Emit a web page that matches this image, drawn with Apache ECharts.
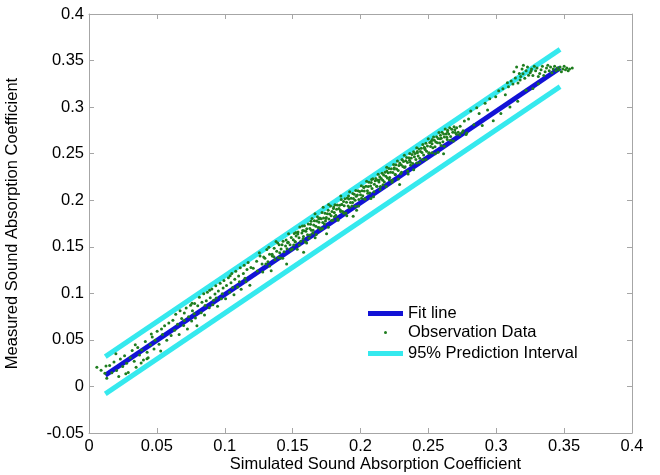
<!DOCTYPE html>
<html>
<head>
<meta charset="utf-8">
<script src="https://cdn.jsdelivr.net/npm/echarts@6/dist/echarts.min.js"></script>
<style>
html,body{margin:0;padding:0;background:#fff;}
#chart{width:660px;height:475px;}
</style>
</head>
<body>
<div id="chart"></div>
<script>
// Axis settings
var xTicks = [0, 0.05, 0.1, 0.15, 0.2, 0.25, 0.3, 0.35, 0.4];
var yTicks = [-0.05, 0, 0.05, 0.1, 0.15, 0.2, 0.25, 0.3, 0.35, 0.4];

// Fit line and 95% prediction interval end points
var fitLine = [[0.012, 0.012], [0.347, 0.342]];
var upperPI = [[0.012, 0.032], [0.347, 0.362]];
var lowerPI = [[0.012, -0.008], [0.347, 0.322]];

// Observation data (simulated, measured)
var obsLow = [
[0.0058,0.0207],[0.0089,0.0175],[0.0117,0.0142],[0.0131,0.0089],[0.0152,0.0226],[0.0168,0.0148],[0.0184,0.0262],[0.0203,0.0171],[0.0219,0.0108],[0.0231,0.0296],
[0.0248,0.0213],[0.0262,0.0329],[0.0277,0.0248],[0.0289,0.0151],[0.0304,0.0307],[0.0318,0.0386],[0.0333,0.0271],[0.0347,0.0205],[0.0359,0.0418],[0.0372,0.0338],
[0.0388,0.0392],[0.0401,0.0284],[0.0415,0.0482],[0.0428,0.0367],[0.0436,0.0309],[0.0452,0.0449],[0.0466,0.0531],[0.0479,0.0402],[0.0487,0.0497],[0.0502,0.0592],
[0.0516,0.0454],[0.0528,0.0381],[0.0541,0.0557],[0.0557,0.0651],[0.0198,0.0352],[0.0341,0.0447],[0.0459,0.0562],[0.0534,0.0618],[0.0271,0.0135],[0.0427,0.0298],
[0.0125,0.0219],[0.0384,0.0251],[0.0573,0.0497],[0.0588,0.0682]
];
var obsMidLow = [
[0.0605,0.0548],[0.0618,0.0712],[0.0631,0.0604],[0.0639,0.0775],[0.0652,0.0668],[0.0664,0.0559],[0.0671,0.0812],[0.0683,0.0731],[0.0697,0.0655],[0.0702,0.0790],
[0.0716,0.0842],[0.0725,0.0617],[0.0733,0.0748],[0.0748,0.0871],[0.0756,0.0702],[0.0762,0.0813],[0.0778,0.0891],[0.0784,0.0734],[0.0795,0.0652],[0.0801,0.0867],
[0.0813,0.0958],[0.0826,0.0792],[0.0832,0.0905],[0.0845,0.0996],[0.0851,0.0768],[0.0864,0.0921],[0.0872,0.1012],[0.0886,0.0845],[0.0893,0.0952],[0.0905,0.1046],
[0.0912,0.0878],[0.0928,0.0993],[0.0934,0.1081],[0.0947,0.0862],[0.0953,0.1024],[0.0966,0.1107],[0.0975,0.0942],[0.0988,0.1057],[0.0994,0.1138],[0.1006,0.0941],
[0.1013,0.1085],[0.1027,0.1168],[0.1035,0.1012],[0.1046,0.1113],[0.1052,0.1214],[0.1068,0.0985],[0.1074,0.1152],[0.1081,0.1237],[0.1095,0.1068],[0.1102,0.1187],
[0.1114,0.1276],[0.1121,0.1045],[0.1137,0.1213],[0.1143,0.1302],[0.1156,0.1124],[0.1164,0.1256],[0.1172,0.1331],[0.1185,0.1087],[0.1193,0.1278],[0.1058,0.1062],
[0.0918,0.0925],[0.0775,0.0781],[0.1108,0.1124],[0.0982,0.0996],[0.0855,0.0870],[0.1149,0.1162],[0.0702,0.0708],[0.0937,0.0951],[0.1040,0.1189],[0.0889,0.1034],
[0.0759,0.0894]
];
var obsMid = [
[0.121,0.127],[0.1235,0.1345],[0.124,0.124],[0.126,0.140],[0.1275,0.1315],[0.128,0.123],[0.1296,0.1376],[0.131,0.147],[0.1318,0.1338],[0.133,0.142],
[0.1342,0.1242],[0.135,0.140],[0.1364,0.1484],[0.137,0.136],[0.1383,0.1453],[0.139,0.154],[0.1405,0.1435],[0.141,0.138],[0.1422,0.1522],[0.143,0.156],
[0.1437,0.1447],[0.1448,0.1508],[0.1456,0.1316],[0.1463,0.1543],[0.147,0.164],[0.1481,0.1521],[0.149,0.160],[0.1497,0.1477],[0.1505,0.1575],[0.1512,0.1642],
[0.152,0.155],[0.1526,0.1616],[0.1534,0.1474],[0.154,0.166],[0.1547,0.1597],[0.1553,0.1713],[0.156,0.156],[0.1568,0.1648],[0.1574,0.1674],[0.158,0.161],
[0.1587,0.1727],[0.1593,0.1553],[0.1598,0.1668],[0.1255,0.1435],[0.1325,0.1495],[0.1378,0.1558],[0.1415,0.1475],[0.1452,0.1572],[0.1508,0.1518],[0.1538,0.1638],
[0.1572,0.1722]
];
var obsMidUpper = [
[0.1604,0.1694],[0.161,0.163],[0.1615,0.1745],[0.1621,0.1591],[0.1627,0.1697],[0.1632,0.1742],[0.1638,0.1678],[0.1643,0.1803],[0.1649,0.1649],[0.1655,0.1735],
[0.166,0.178],[0.1666,0.1596],[0.1671,0.1721],[0.1677,0.1777],[0.1683,0.1823],[0.1688,0.1708],[0.1694,0.1764],[0.17,0.181],[0.1705,0.1685],[0.1711,0.1801],
[0.1717,0.1867],[0.1722,0.1762],[0.1728,0.1808],[0.1734,0.1744],[0.1739,0.1859],[0.1745,0.1805],[0.175,0.164],[0.1756,0.1856],[0.1762,0.1892],[0.1767,0.1797],
[0.1773,0.1853],[0.1779,0.1939],[0.1784,0.1834],[0.179,0.188],[0.1796,0.1786],[0.1801,0.1911],[0.1807,0.1867],[0.1812,0.1952],[0.1818,0.1838],[0.1824,0.1904],
[0.1829,0.1949],[0.1835,0.1785],[0.1841,0.1911],[0.1846,0.1946],[0.1852,0.1892],[0.1858,0.2008],[0.1863,0.1953],[0.1869,0.1879],[0.1875,0.1985],[0.188,0.194],
[0.1886,0.2016],[0.1892,0.1862],[0.1897,0.1977],[0.1903,0.2023],[0.1909,0.1939],[0.1914,0.2014],[0.192,0.209],[0.1926,0.1976],[0.1931,0.2021],[0.1937,0.1937],
[0.1943,0.2073],[0.1948,0.2018],[0.1954,0.2064],[0.196,0.200],[0.1965,0.2105],[0.1971,0.1891],[0.1977,0.2057],[0.1982,0.2102],[0.1988,0.2008],[0.1994,0.2094],
[0.20,0.206],[0.2006,0.2156],[0.2011,0.2101],[0.2017,0.2047],[0.2023,0.2143],[0.2028,0.2098],[0.2034,0.2014],[0.204,0.215],[0.2045,0.2205],[0.2051,0.2101],
[0.2057,0.2147],[0.2062,0.2192],[0.2068,0.2078],[0.2074,0.2154],[0.2079,0.2189],[0.2085,0.2125],[0.2091,0.2231],[0.2096,0.2036],[0.2102,0.2172],[0.2108,0.2208],
[0.2113,0.2233],[0.2119,0.2149],[0.2125,0.2215],[0.213,0.228],[0.2136,0.2196],[0.2142,0.2252],[0.2147,0.2147],[0.2153,0.2233],[0.2159,0.2289],[0.2164,0.2214],
[0.217,0.227],[0.2176,0.2196],[0.2181,0.2301],[0.2187,0.2257],[0.2193,0.2353],[0.2198,0.2238],[0.1725,0.1925],[0.1765,0.1955],[0.1665,0.1855],[0.1855,0.2045]
];
var obsMidHigh = [
[0.2204,0.2294],[0.221,0.234],[0.2215,0.2245],[0.2221,0.2301],[0.2227,0.2337],[0.2232,0.2192],[0.2238,0.2298],[0.2244,0.2384],[0.2249,0.2349],[0.2255,0.2275],
[0.2261,0.2381],[0.2266,0.2336],[0.2272,0.2422],[0.2278,0.2318],[0.2283,0.2373],[0.2289,0.2399],[0.2295,0.2285],[0.23,0.238],[0.2306,0.2436],[0.2312,0.2362],
[0.2317,0.2417],[0.2323,0.2483],[0.2329,0.2359],[0.2334,0.2424],[0.234,0.246],[0.2346,0.2406],[0.2351,0.2281],[0.2357,0.2457],[0.2363,0.2503],[0.2368,0.2408],
[0.2374,0.2454],[0.238,0.249],[0.2385,0.2395],[0.2391,0.2521],[0.2397,0.2467],[0.2402,0.2502],[0.2408,0.2438],[0.2414,0.2564],[0.2419,0.2509],[0.2425,0.2475],
[0.2431,0.2551],[0.2436,0.2406],[0.2442,0.2522],[0.2448,0.2559],[0.2453,0.2513],[0.2459,0.2599],[0.2465,0.2485],[0.247,0.257],[0.2476,0.2546],[0.2482,0.2612],
[0.2487,0.2527],[0.2493,0.2583],[0.2499,0.2659],[0.2504,0.2504],[0.251,0.262],[0.2516,0.2576],[0.2521,0.2633],[0.2527,0.2607],[0.2533,0.2563],[0.2538,0.2678],
[0.2544,0.2644],[0.255,0.250],[0.2555,0.2625],[0.2561,0.2681],[0.2567,0.2617],[0.2572,0.2662],[0.2578,0.2728],[0.2584,0.2614],[0.2589,0.2699],[0.2595,0.2665],
[0.2601,0.2731],[0.2607,0.2627],[0.2612,0.2712],[0.2618,0.2678],[0.2624,0.2764],[0.263,0.271],[0.2636,0.2676],[0.2642,0.2752],[0.265,0.271],[0.2657,0.2777],
[0.2664,0.2684],[0.2672,0.2762],[0.268,0.273],[0.2689,0.2789],[0.2698,0.2728],[0.2708,0.2778],[0.272,0.273],[0.2734,0.2794],[0.2748,0.2728]
];
var obsNearFit = [
[0.1303,0.1316],[0.1331,0.1293],[0.1362,0.1394],[0.1394,0.1385],[0.1427,0.1378],[0.1459,0.1479],[0.1486,0.1466],[0.1518,0.1557],[0.1549,0.1518],[0.1577,0.1585],
[0.1603,0.1541],[0.1629,0.1627],[0.1651,0.1678],[0.1674,0.1631],[0.1698,0.1705],[0.1719,0.1695],[0.1742,0.1778],[0.1763,0.1709],[0.1787,0.1782],[0.1808,0.1823],
[0.1832,0.1797],[0.1853,0.1878],[0.1877,0.1861],[0.1899,0.1833],[0.1918,0.1921],[0.1942,0.1975],[0.1963,0.1936],[0.1986,0.1938],[0.2008,0.2020],[0.2031,0.2013],
[0.2053,0.2074],[0.2077,0.2018],[0.2099,0.2090],[0.2121,0.2151],[0.2144,0.2114],[0.2166,0.2166],[0.2189,0.2148],[0.2212,0.2221],[0.2235,0.2214],[0.2257,0.2275],
[0.2279,0.2227],[0.2302,0.2300],[0.2324,0.2351],[0.2347,0.2314],[0.2369,0.2376],[0.2392,0.2328],[0.2414,0.2400],[0.2437,0.2452],[0.2459,0.2434],[0.2482,0.2437],
[0.2505,0.2509],[0.2527,0.2511],[0.2549,0.2573],[0.2572,0.2515],[0.2594,0.2587],[0.2617,0.2580],[0.2639,0.2651],[0.2662,0.2644],[0.2684,0.2636],[0.2707,0.2708],
[0.2731,0.2702],[0.2756,0.2747],[0.2783,0.2723],[0.1581,0.1441],[0.1946,0.1827],[0.2288,0.2170],[0.2612,0.2498]
];
var obsUpperBand = [
[0.1287,0.1390],[0.1349,0.1421],[0.1401,0.1522],[0.1468,0.1548],[0.1524,0.1653],[0.1583,0.1671],[0.1636,0.1774],[0.1692,0.1799],[0.1748,0.1814],[0.1803,0.1928],
[0.1861,0.1955],[0.1912,0.2046],[0.1969,0.2042],[0.2025,0.2137],[0.2082,0.2223],[0.2137,0.2217],[0.2194,0.2313],[0.2248,0.2336],[0.2307,0.2434],[0.2361,0.2428],
[0.2418,0.2524],[0.2473,0.2558],[0.2529,0.2653],[0.2586,0.2659],[0.2641,0.2733],[0.2695,0.2757]
];
var obsHigh = [
[0.2765,0.2851],[0.2778,0.2705],[0.2796,0.2872],[0.2812,0.2958],[0.2835,0.2811],[0.2856,0.2993],[0.2874,0.2931],[0.2897,0.2802],[0.2918,0.3042],[0.2936,0.2968],
[0.2952,0.3089],[0.2978,0.2853],[0.2996,0.3112],[0.3018,0.3176],[0.3034,0.2931],[0.3049,0.3198],[0.3067,0.3132],[0.3082,0.3261],[0.3101,0.3002],[0.3123,0.3249],
[0.3141,0.3312],[0.3158,0.3063],[0.3176,0.3291],[0.3197,0.3358],[0.3219,0.3182],[0.3238,0.3341],[0.3257,0.3389]
];
var obsTop = [
[0.313,0.338],[0.315,0.343],[0.317,0.336],[0.319,0.341],[0.320,0.345],[0.322,0.339],[0.323,0.343],[0.325,0.337],[0.326,0.341],[0.328,0.344],
[0.329,0.339],[0.330,0.342],[0.332,0.336],[0.333,0.340],[0.334,0.344],[0.336,0.338],[0.337,0.342],[0.338,0.345],[0.339,0.339],[0.340,0.343],
[0.341,0.337],[0.342,0.341],[0.343,0.344],[0.344,0.339],[0.345,0.342],[0.346,0.340],[0.347,0.343],[0.348,0.338],[0.349,0.341],[0.350,0.344],
[0.351,0.340],[0.352,0.342],[0.353,0.339],[0.354,0.341],[0.356,0.342],[0.318,0.333],[0.321,0.331],[0.327,0.334],[0.331,0.333],[0.335,0.334],
[0.311,0.328],[0.316,0.326],[0.309,0.322],[0.327,0.320],[0.331,0.325]
];
var observations = [].concat(obsLow, obsMidLow, obsMid, obsMidUpper, obsMidHigh, obsNearFit, obsUpperBand, obsHigh, obsTop);

var seriesNames = ['Fit line', 'Observation Data', '95% Prediction Interval'];

var FONT = 'Liberation Sans, Arial, sans-serif';
var AXIS_GRAY = '#a6a6a6';
var BLUE = '#1212d6';
var CYAN = '#35e9ee';
var GREEN = '#1e7d1e';

function fmt(v){ return String(Math.round(v*100)/100); }

function axisBase(pos, ticks, showLabels){
  return {
    type: 'value',
    position: pos,
    min: ticks[0],
    max: ticks[ticks.length-1],
    interval: 0.05,
    axisLine: {show: true, onZero: false, lineStyle: {color: AXIS_GRAY, width: 1}},
    axisTick: {show: true, inside: true, length: 5, lineStyle: {color: AXIS_GRAY}},
    splitLine: {show: false},
    axisLabel: {show: showLabels, color: '#000', fontFamily: FONT, fontSize: 16.5, margin: 5, formatter: fmt}
  };
}

var xBottom = axisBase('bottom', xTicks, true);
xBottom.name = 'Simulated Sound Absorption Coefficient';
xBottom.nameLocation = 'middle';
xBottom.nameGap = 23;
xBottom.nameMoveOverlap = false;
xBottom.nameTextStyle = {color: '#000', fontFamily: FONT, fontSize: 16.5, padding: [0, 0, 0, 30]};
var xTop = axisBase('top', xTicks, false);

var yLeft = axisBase('left', yTicks, true);
yLeft.name = 'Measured Sound Absorption Coefficient';
yLeft.nameLocation = 'middle';
yLeft.nameGap = 68;
yLeft.nameTextStyle = {color: '#000', fontFamily: FONT, fontSize: 16.5};
var yRight = axisBase('right', yTicks, false);

function legendRow(name, left, top, icon, h){
  return {
    data: [{name: name, icon: icon}],
    left: left, top: top,
    padding: 0,
    itemWidth: 35, itemHeight: h,
    selectedMode: false,
    textStyle: {color: '#000', fontFamily: FONT, fontSize: 16.5, lineHeight: 16}
  };
}

var option = {
  animation: false,
  backgroundColor: '#fff',
  grid: {left: 89, right: 28, top: 14, bottom: 42, containLabel: false, outerBoundsMode: 'none'},
  xAxis: [xBottom, xTop],
  yAxis: [yLeft, yRight],
  legend: [
    legendRow(seriesNames[0], 368, 305, 'rect', 5),
    legendRow(seriesNames[1], 384, 324, 'circle', 3),
    legendRow(seriesNames[2], 368, 345, 'rect', 5)
  ],
  series: [
    {name: seriesNames[2], type: 'line', data: upperPI, showSymbol: false, symbol: 'none', color: CYAN,
     lineStyle: {color: CYAN, width: 5}, z: 2, silent: true},
    {name: seriesNames[2], type: 'line', data: lowerPI, showSymbol: false, symbol: 'none', color: CYAN,
     lineStyle: {color: CYAN, width: 5}, z: 2, silent: true},
    {name: seriesNames[0], type: 'line', data: fitLine, showSymbol: false, symbol: 'none', color: BLUE,
     lineStyle: {color: BLUE, width: 5}, z: 3, silent: true},
    {name: seriesNames[1], type: 'scatter', data: observations, symbol: 'circle', symbolSize: 3, color: GREEN,
     itemStyle: {color: GREEN, opacity: 1}, z: 4, silent: true}
  ]
};

var chart = echarts.init(document.getElementById('chart'), null, {renderer: 'canvas'});
chart.setOption(option);
</script>
</body>
</html>
